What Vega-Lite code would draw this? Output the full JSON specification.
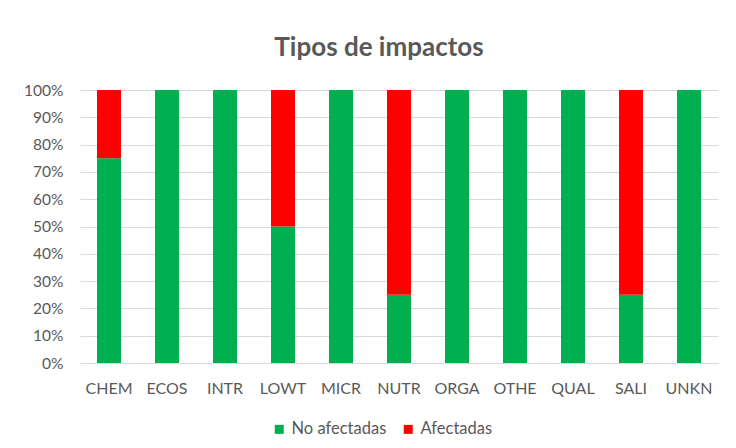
{
  "$schema": "https://vega.github.io/schema/vega-lite/v6.json",
  "width": 638,
  "height": 273,
  "autosize": {"type": "none"},
  "padding": {"left": 80, "top": 90, "right": 18, "bottom": 85},
  "background": "white",
  "title": {
    "text": "Tipos de impactos",
    "anchor": "middle",
    "dx": -20,
    "offset": 22,
    "font": "Lato",
    "fontSize": 26,
    "fontWeight": "bold",
    "color": "#595959"
  },
  "data": {
    "values": [
      {"cat": "CHEM", "serie": "No afectadas", "ord": 1, "v": 75},
      {"cat": "CHEM", "serie": "Afectadas", "ord": 2, "v": 25},
      {"cat": "ECOS", "serie": "No afectadas", "ord": 1, "v": 100},
      {"cat": "ECOS", "serie": "Afectadas", "ord": 2, "v": 0},
      {"cat": "INTR", "serie": "No afectadas", "ord": 1, "v": 100},
      {"cat": "INTR", "serie": "Afectadas", "ord": 2, "v": 0},
      {"cat": "LOWT", "serie": "No afectadas", "ord": 1, "v": 50},
      {"cat": "LOWT", "serie": "Afectadas", "ord": 2, "v": 50},
      {"cat": "MICR", "serie": "No afectadas", "ord": 1, "v": 100},
      {"cat": "MICR", "serie": "Afectadas", "ord": 2, "v": 0},
      {"cat": "NUTR", "serie": "No afectadas", "ord": 1, "v": 25},
      {"cat": "NUTR", "serie": "Afectadas", "ord": 2, "v": 75},
      {"cat": "ORGA", "serie": "No afectadas", "ord": 1, "v": 100},
      {"cat": "ORGA", "serie": "Afectadas", "ord": 2, "v": 0},
      {"cat": "OTHE", "serie": "No afectadas", "ord": 1, "v": 100},
      {"cat": "OTHE", "serie": "Afectadas", "ord": 2, "v": 0},
      {"cat": "QUAL", "serie": "No afectadas", "ord": 1, "v": 100},
      {"cat": "QUAL", "serie": "Afectadas", "ord": 2, "v": 0},
      {"cat": "SALI", "serie": "No afectadas", "ord": 1, "v": 25},
      {"cat": "SALI", "serie": "Afectadas", "ord": 2, "v": 75},
      {"cat": "UNKN", "serie": "No afectadas", "ord": 1, "v": 100},
      {"cat": "UNKN", "serie": "Afectadas", "ord": 2, "v": 0}
    ]
  },
  "mark": {"type": "bar", "size": 24},
  "encoding": {
    "x": {
      "field": "cat",
      "type": "nominal",
      "sort": null,
      "title": null,
      "axis": {
        "labelAngle": 0,
        "labelFont": "Lato",
        "labelFontSize": 16,
        "labelColor": "#595959",
        "labelPadding": 17,
        "ticks": false,
        "domainColor": "#D9D9D9",
        "grid": false
      }
    },
    "y": {
      "field": "v",
      "type": "quantitative",
      "stack": "normalize",
      "title": null,
      "scale": {"domain": [0, 1], "nice": false},
      "axis": {
        "format": "%",
        "values": [0, 0.1, 0.2, 0.3, 0.4, 0.5, 0.6, 0.7, 0.8, 0.9, 1],
        "labelFont": "Lato",
        "labelFontSize": 15.5,
        "labelColor": "#595959",
        "labelPadding": 17,
        "ticks": false,
        "domain": false,
        "grid": true,
        "gridColor": "#D9D9D9"
      }
    },
    "color": {
      "field": "serie",
      "type": "nominal",
      "scale": {"domain": ["No afectadas", "Afectadas"], "range": ["#00B050", "#FF0000"]},
      "legend": {
        "title": null,
        "orient": "none",
        "direction": "horizontal",
        "legendX": 191,
        "legendY": 331,
        "symbolType": "square",
        "symbolSize": 81,
        "symbolStrokeWidth": 0,
        "labelFont": "Lato",
        "labelFontSize": 16.5,
        "labelColor": "#595959",
        "columnPadding": 13
      }
    },
    "order": {"field": "ord", "type": "quantitative"}
  },
  "config": {"view": {"stroke": null}}
}
